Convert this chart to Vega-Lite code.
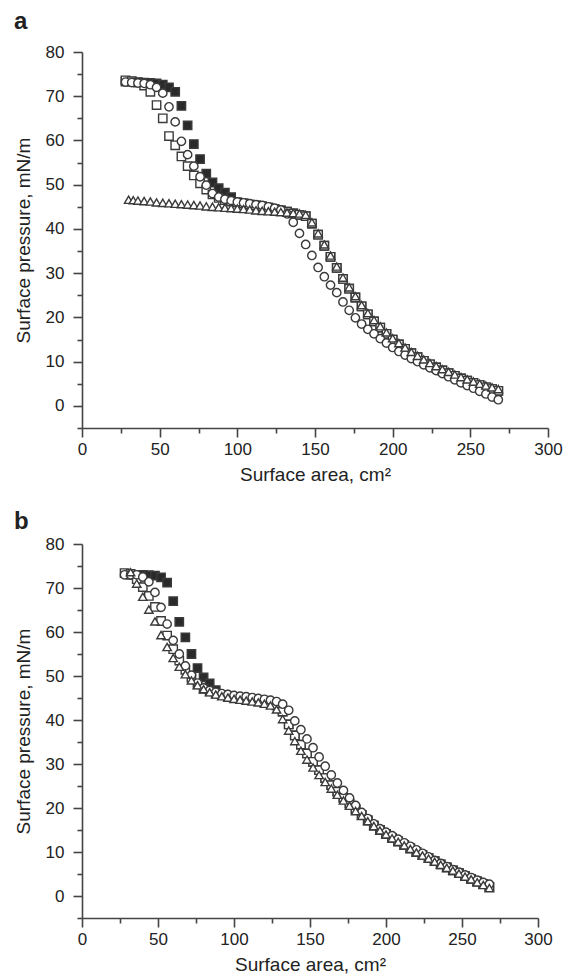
{
  "$schema": "https://vega.github.io/schema/vega-lite/v6.json",
  "padding": {"left": 14, "top": 10, "right": 6, "bottom": 3},
  "background": "white",
  "data": {
    "values": [
      {"p":"a","s":"F","x":28,"y":73.3},{"p":"a","s":"F","x":32,"y":73.3},{"p":"a","s":"F","x":36,"y":73.2},{"p":"a","s":"F","x":40,"y":73.1},{"p":"a","s":"F","x":44,"y":73.0},{"p":"a","s":"F","x":48,"y":72.9},{"p":"a","s":"F","x":52,"y":72.6},{"p":"a","s":"F","x":56,"y":72.0},{"p":"a","s":"F","x":60,"y":71.0},{"p":"a","s":"F","x":64,"y":67.8},{"p":"a","s":"F","x":68,"y":63.4},{"p":"a","s":"F","x":72,"y":59.2},{"p":"a","s":"F","x":76,"y":55.8},{"p":"a","s":"F","x":80,"y":52.5},{"p":"a","s":"F","x":84,"y":50.5},{"p":"a","s":"F","x":88,"y":49.2},{"p":"a","s":"F","x":92,"y":48.2},{"p":"a","s":"F","x":96,"y":47.2},{"p":"a","s":"F","x":100,"y":46.0},{"p":"a","s":"F","x":104,"y":45.8},{"p":"a","s":"F","x":108,"y":45.5},{"p":"a","s":"F","x":112,"y":45.3},{"p":"a","s":"F","x":116,"y":45.1},{"p":"a","s":"F","x":120,"y":44.8},{"p":"a","s":"F","x":124,"y":44.5},{"p":"a","s":"F","x":128,"y":44.2},{"p":"a","s":"F","x":132,"y":43.9},{"p":"a","s":"F","x":136,"y":43.5},{"p":"a","s":"F","x":140,"y":43.2},{"p":"a","s":"F","x":144,"y":42.9},{"p":"a","s":"F","x":148,"y":41.2},{"p":"a","s":"F","x":152,"y":38.7},{"p":"a","s":"F","x":156,"y":36.2},{"p":"a","s":"F","x":160,"y":33.7},{"p":"a","s":"F","x":164,"y":31.2},{"p":"a","s":"F","x":168,"y":28.7},{"p":"a","s":"F","x":172,"y":26.5},{"p":"a","s":"F","x":176,"y":24.5},{"p":"a","s":"F","x":180,"y":22.5},{"p":"a","s":"F","x":184,"y":20.7},{"p":"a","s":"F","x":188,"y":19.1},{"p":"a","s":"F","x":192,"y":17.7},{"p":"a","s":"F","x":196,"y":16.3},{"p":"a","s":"F","x":200,"y":15.0},{"p":"a","s":"F","x":204,"y":13.9},{"p":"a","s":"F","x":208,"y":12.9},{"p":"a","s":"F","x":212,"y":11.9},{"p":"a","s":"F","x":216,"y":11.0},{"p":"a","s":"F","x":220,"y":10.2},{"p":"a","s":"F","x":224,"y":9.4},{"p":"a","s":"F","x":228,"y":8.7},{"p":"a","s":"F","x":232,"y":8.0},{"p":"a","s":"F","x":236,"y":7.4},{"p":"a","s":"F","x":240,"y":6.8},{"p":"a","s":"F","x":244,"y":6.2},{"p":"a","s":"F","x":248,"y":5.7},{"p":"a","s":"F","x":252,"y":5.2},{"p":"a","s":"F","x":256,"y":4.7},{"p":"a","s":"F","x":260,"y":4.2},{"p":"a","s":"F","x":264,"y":3.8},{"p":"a","s":"F","x":268,"y":3.4},

      {"p":"a","s":"O","x":28,"y":73.6},{"p":"a","s":"O","x":32,"y":73.4},{"p":"a","s":"O","x":36,"y":73.1},{"p":"a","s":"O","x":40,"y":72.4},{"p":"a","s":"O","x":44,"y":71.0},{"p":"a","s":"O","x":48,"y":68.0},{"p":"a","s":"O","x":52,"y":65.0},{"p":"a","s":"O","x":56,"y":61.0},{"p":"a","s":"O","x":60,"y":58.9},{"p":"a","s":"O","x":64,"y":56.4},{"p":"a","s":"O","x":68,"y":54.2},{"p":"a","s":"O","x":72,"y":52.1},{"p":"a","s":"O","x":76,"y":50.3},{"p":"a","s":"O","x":80,"y":48.9},{"p":"a","s":"O","x":84,"y":47.8},{"p":"a","s":"O","x":88,"y":47.0},{"p":"a","s":"O","x":92,"y":46.5},{"p":"a","s":"O","x":96,"y":46.2},{"p":"a","s":"O","x":100,"y":46.0},{"p":"a","s":"O","x":104,"y":45.8},{"p":"a","s":"O","x":108,"y":45.5},{"p":"a","s":"O","x":112,"y":45.3},{"p":"a","s":"O","x":116,"y":45.1},{"p":"a","s":"O","x":120,"y":44.8},{"p":"a","s":"O","x":124,"y":44.5},{"p":"a","s":"O","x":128,"y":44.2},{"p":"a","s":"O","x":132,"y":43.9},{"p":"a","s":"O","x":136,"y":43.5},{"p":"a","s":"O","x":140,"y":43.2},{"p":"a","s":"O","x":144,"y":42.9},{"p":"a","s":"O","x":148,"y":41.2},{"p":"a","s":"O","x":152,"y":38.7},{"p":"a","s":"O","x":156,"y":36.2},{"p":"a","s":"O","x":160,"y":33.7},{"p":"a","s":"O","x":164,"y":31.2},{"p":"a","s":"O","x":168,"y":28.7},{"p":"a","s":"O","x":172,"y":26.5},{"p":"a","s":"O","x":176,"y":24.5},{"p":"a","s":"O","x":180,"y":22.5},{"p":"a","s":"O","x":184,"y":20.7},{"p":"a","s":"O","x":188,"y":19.1},{"p":"a","s":"O","x":192,"y":17.7},{"p":"a","s":"O","x":196,"y":16.3},{"p":"a","s":"O","x":200,"y":15.0},{"p":"a","s":"O","x":204,"y":13.9},{"p":"a","s":"O","x":208,"y":12.9},{"p":"a","s":"O","x":212,"y":11.9},{"p":"a","s":"O","x":216,"y":11.0},{"p":"a","s":"O","x":220,"y":10.2},{"p":"a","s":"O","x":224,"y":9.4},{"p":"a","s":"O","x":228,"y":8.7},{"p":"a","s":"O","x":232,"y":8.0},{"p":"a","s":"O","x":236,"y":7.4},{"p":"a","s":"O","x":240,"y":6.8},{"p":"a","s":"O","x":244,"y":6.2},{"p":"a","s":"O","x":248,"y":5.7},{"p":"a","s":"O","x":252,"y":5.2},{"p":"a","s":"O","x":256,"y":4.7},{"p":"a","s":"O","x":260,"y":4.2},{"p":"a","s":"O","x":264,"y":3.8},{"p":"a","s":"O","x":268,"y":3.4},

      {"p":"a","s":"C","x":28,"y":73.2},{"p":"a","s":"C","x":32,"y":73.1},{"p":"a","s":"C","x":36,"y":73.0},{"p":"a","s":"C","x":40,"y":72.9},{"p":"a","s":"C","x":44,"y":72.6},{"p":"a","s":"C","x":48,"y":72.0},{"p":"a","s":"C","x":52,"y":70.7},{"p":"a","s":"C","x":56,"y":67.6},{"p":"a","s":"C","x":60,"y":64.2},{"p":"a","s":"C","x":64,"y":59.8},{"p":"a","s":"C","x":68,"y":56.8},{"p":"a","s":"C","x":72,"y":54.2},{"p":"a","s":"C","x":76,"y":51.8},{"p":"a","s":"C","x":80,"y":49.9},{"p":"a","s":"C","x":84,"y":48.0},{"p":"a","s":"C","x":88,"y":47.2},{"p":"a","s":"C","x":92,"y":46.7},{"p":"a","s":"C","x":96,"y":46.4},{"p":"a","s":"C","x":100,"y":46.1},{"p":"a","s":"C","x":104,"y":45.9},{"p":"a","s":"C","x":108,"y":45.7},{"p":"a","s":"C","x":112,"y":45.5},{"p":"a","s":"C","x":116,"y":45.3},{"p":"a","s":"C","x":120,"y":45.0},{"p":"a","s":"C","x":124,"y":44.7},{"p":"a","s":"C","x":128,"y":44.3},{"p":"a","s":"C","x":132,"y":43.4},{"p":"a","s":"C","x":136,"y":41.5},{"p":"a","s":"C","x":140,"y":39.0},{"p":"a","s":"C","x":144,"y":36.5},{"p":"a","s":"C","x":148,"y":34.0},{"p":"a","s":"C","x":152,"y":31.3},{"p":"a","s":"C","x":156,"y":29.2},{"p":"a","s":"C","x":160,"y":27.3},{"p":"a","s":"C","x":164,"y":25.6},{"p":"a","s":"C","x":168,"y":23.5},{"p":"a","s":"C","x":172,"y":21.6},{"p":"a","s":"C","x":176,"y":19.9},{"p":"a","s":"C","x":180,"y":18.5},{"p":"a","s":"C","x":184,"y":17.3},{"p":"a","s":"C","x":188,"y":16.3},{"p":"a","s":"C","x":192,"y":15.2},{"p":"a","s":"C","x":196,"y":14.2},{"p":"a","s":"C","x":200,"y":13.2},{"p":"a","s":"C","x":204,"y":12.3},{"p":"a","s":"C","x":208,"y":11.5},{"p":"a","s":"C","x":212,"y":10.7},{"p":"a","s":"C","x":216,"y":10.0},{"p":"a","s":"C","x":220,"y":9.3},{"p":"a","s":"C","x":224,"y":8.6},{"p":"a","s":"C","x":228,"y":8.0},{"p":"a","s":"C","x":232,"y":7.3},{"p":"a","s":"C","x":236,"y":6.6},{"p":"a","s":"C","x":240,"y":5.9},{"p":"a","s":"C","x":244,"y":5.2},{"p":"a","s":"C","x":248,"y":4.6},{"p":"a","s":"C","x":252,"y":4.0},{"p":"a","s":"C","x":256,"y":3.3},{"p":"a","s":"C","x":260,"y":2.7},{"p":"a","s":"C","x":264,"y":2.0},{"p":"a","s":"C","x":268,"y":1.4},

      {"p":"a","s":"T","x":30,"y":46.6},{"p":"a","s":"T","x":33,"y":46.5},{"p":"a","s":"T","x":36,"y":46.4},{"p":"a","s":"T","x":40,"y":46.3},{"p":"a","s":"T","x":44,"y":46.2},{"p":"a","s":"T","x":48,"y":46.0},{"p":"a","s":"T","x":52,"y":45.9},{"p":"a","s":"T","x":56,"y":45.8},{"p":"a","s":"T","x":60,"y":45.7},{"p":"a","s":"T","x":64,"y":45.6},{"p":"a","s":"T","x":68,"y":45.5},{"p":"a","s":"T","x":72,"y":45.4},{"p":"a","s":"T","x":76,"y":45.3},{"p":"a","s":"T","x":80,"y":45.1},{"p":"a","s":"T","x":84,"y":45.0},{"p":"a","s":"T","x":88,"y":44.9},{"p":"a","s":"T","x":92,"y":44.8},{"p":"a","s":"T","x":96,"y":44.7},{"p":"a","s":"T","x":100,"y":44.6},{"p":"a","s":"T","x":104,"y":44.5},{"p":"a","s":"T","x":108,"y":44.4},{"p":"a","s":"T","x":112,"y":44.2},{"p":"a","s":"T","x":116,"y":44.1},{"p":"a","s":"T","x":120,"y":44.0},{"p":"a","s":"T","x":124,"y":43.9},{"p":"a","s":"T","x":128,"y":43.8},{"p":"a","s":"T","x":132,"y":43.7},{"p":"a","s":"T","x":136,"y":43.6},{"p":"a","s":"T","x":140,"y":43.5},{"p":"a","s":"T","x":144,"y":43.2},{"p":"a","s":"T","x":148,"y":41.5},{"p":"a","s":"T","x":152,"y":39.0},{"p":"a","s":"T","x":156,"y":36.5},{"p":"a","s":"T","x":160,"y":34.0},{"p":"a","s":"T","x":164,"y":31.5},{"p":"a","s":"T","x":168,"y":29.0},{"p":"a","s":"T","x":172,"y":26.8},{"p":"a","s":"T","x":176,"y":24.8},{"p":"a","s":"T","x":180,"y":22.8},{"p":"a","s":"T","x":184,"y":21.0},{"p":"a","s":"T","x":188,"y":19.4},{"p":"a","s":"T","x":192,"y":18.0},{"p":"a","s":"T","x":196,"y":16.6},{"p":"a","s":"T","x":200,"y":15.3},{"p":"a","s":"T","x":204,"y":14.2},{"p":"a","s":"T","x":208,"y":13.2},{"p":"a","s":"T","x":212,"y":12.2},{"p":"a","s":"T","x":216,"y":11.3},{"p":"a","s":"T","x":220,"y":10.5},{"p":"a","s":"T","x":224,"y":9.7},{"p":"a","s":"T","x":228,"y":9.0},{"p":"a","s":"T","x":232,"y":8.3},{"p":"a","s":"T","x":236,"y":7.7},{"p":"a","s":"T","x":240,"y":7.1},{"p":"a","s":"T","x":244,"y":6.5},{"p":"a","s":"T","x":248,"y":6.0},{"p":"a","s":"T","x":252,"y":5.5},{"p":"a","s":"T","x":256,"y":5.0},{"p":"a","s":"T","x":260,"y":4.6},{"p":"a","s":"T","x":264,"y":4.2},{"p":"a","s":"T","x":268,"y":3.8},

      {"p":"b","s":"F","x":32,"y":73.0},{"p":"b","s":"F","x":36,"y":73.0},{"p":"b","s":"F","x":40,"y":73.0},{"p":"b","s":"F","x":44,"y":72.9},{"p":"b","s":"F","x":48,"y":72.8},{"p":"b","s":"F","x":52,"y":72.4},{"p":"b","s":"F","x":56,"y":71.2},{"p":"b","s":"F","x":60,"y":67.0},{"p":"b","s":"F","x":64,"y":62.3},{"p":"b","s":"F","x":68,"y":58.8},{"p":"b","s":"F","x":72,"y":55.0},{"p":"b","s":"F","x":76,"y":51.8},{"p":"b","s":"F","x":80,"y":49.7},{"p":"b","s":"F","x":84,"y":48.3},{"p":"b","s":"F","x":88,"y":46.8},{"p":"b","s":"F","x":92,"y":45.7},{"p":"b","s":"F","x":96,"y":45.4},{"p":"b","s":"F","x":100,"y":45.2},{"p":"b","s":"F","x":104,"y":45.0},{"p":"b","s":"F","x":108,"y":44.8},{"p":"b","s":"F","x":112,"y":44.6},{"p":"b","s":"F","x":116,"y":44.4},{"p":"b","s":"F","x":120,"y":44.2},{"p":"b","s":"F","x":124,"y":43.9},{"p":"b","s":"F","x":128,"y":43.3},{"p":"b","s":"F","x":132,"y":41.9},{"p":"b","s":"F","x":136,"y":39.0},{"p":"b","s":"F","x":140,"y":36.5},{"p":"b","s":"F","x":144,"y":34.4},{"p":"b","s":"F","x":148,"y":32.4},{"p":"b","s":"F","x":152,"y":30.5},{"p":"b","s":"F","x":156,"y":28.6},{"p":"b","s":"F","x":160,"y":26.8},{"p":"b","s":"F","x":164,"y":25.2},{"p":"b","s":"F","x":168,"y":23.7},{"p":"b","s":"F","x":172,"y":22.3},{"p":"b","s":"F","x":176,"y":21.0},{"p":"b","s":"F","x":180,"y":19.7},{"p":"b","s":"F","x":184,"y":18.4},{"p":"b","s":"F","x":188,"y":17.2},{"p":"b","s":"F","x":192,"y":16.0},{"p":"b","s":"F","x":196,"y":15.0},{"p":"b","s":"F","x":200,"y":14.1},{"p":"b","s":"F","x":204,"y":13.2},{"p":"b","s":"F","x":208,"y":12.4},{"p":"b","s":"F","x":212,"y":11.6},{"p":"b","s":"F","x":216,"y":10.8},{"p":"b","s":"F","x":220,"y":10.0},{"p":"b","s":"F","x":224,"y":9.3},{"p":"b","s":"F","x":228,"y":8.6},{"p":"b","s":"F","x":232,"y":7.9},{"p":"b","s":"F","x":236,"y":7.2},{"p":"b","s":"F","x":240,"y":6.5},{"p":"b","s":"F","x":244,"y":5.8},{"p":"b","s":"F","x":248,"y":5.2},{"p":"b","s":"F","x":252,"y":4.5},{"p":"b","s":"F","x":256,"y":3.9},{"p":"b","s":"F","x":260,"y":3.3},{"p":"b","s":"F","x":264,"y":2.7},{"p":"b","s":"F","x":268,"y":2.1},

      {"p":"b","s":"O","x":28,"y":73.4},{"p":"b","s":"O","x":32,"y":73.2},{"p":"b","s":"O","x":36,"y":72.0},{"p":"b","s":"O","x":40,"y":70.2},{"p":"b","s":"O","x":44,"y":68.2},{"p":"b","s":"O","x":48,"y":65.7},{"p":"b","s":"O","x":52,"y":62.5},{"p":"b","s":"O","x":56,"y":59.2},{"p":"b","s":"O","x":60,"y":56.1},{"p":"b","s":"O","x":64,"y":53.5},{"p":"b","s":"O","x":68,"y":51.4},{"p":"b","s":"O","x":72,"y":49.6},{"p":"b","s":"O","x":76,"y":48.1},{"p":"b","s":"O","x":80,"y":47.1},{"p":"b","s":"O","x":84,"y":46.5},{"p":"b","s":"O","x":88,"y":46.0},{"p":"b","s":"O","x":92,"y":45.7},{"p":"b","s":"O","x":96,"y":45.4},{"p":"b","s":"O","x":100,"y":45.2},{"p":"b","s":"O","x":104,"y":45.0},{"p":"b","s":"O","x":108,"y":44.8},{"p":"b","s":"O","x":112,"y":44.6},{"p":"b","s":"O","x":116,"y":44.4},{"p":"b","s":"O","x":120,"y":44.2},{"p":"b","s":"O","x":124,"y":43.9},{"p":"b","s":"O","x":128,"y":43.3},{"p":"b","s":"O","x":132,"y":41.9},{"p":"b","s":"O","x":136,"y":39.0},{"p":"b","s":"O","x":140,"y":36.5},{"p":"b","s":"O","x":144,"y":34.4},{"p":"b","s":"O","x":148,"y":32.4},{"p":"b","s":"O","x":152,"y":30.5},{"p":"b","s":"O","x":156,"y":28.6},{"p":"b","s":"O","x":160,"y":26.8},{"p":"b","s":"O","x":164,"y":25.2},{"p":"b","s":"O","x":168,"y":23.7},{"p":"b","s":"O","x":172,"y":22.3},{"p":"b","s":"O","x":176,"y":21.0},{"p":"b","s":"O","x":180,"y":19.7},{"p":"b","s":"O","x":184,"y":18.4},{"p":"b","s":"O","x":188,"y":17.2},{"p":"b","s":"O","x":192,"y":16.0},{"p":"b","s":"O","x":196,"y":15.0},{"p":"b","s":"O","x":200,"y":14.1},{"p":"b","s":"O","x":204,"y":13.2},{"p":"b","s":"O","x":208,"y":12.4},{"p":"b","s":"O","x":212,"y":11.6},{"p":"b","s":"O","x":216,"y":10.8},{"p":"b","s":"O","x":220,"y":10.0},{"p":"b","s":"O","x":224,"y":9.3},{"p":"b","s":"O","x":228,"y":8.6},{"p":"b","s":"O","x":232,"y":7.9},{"p":"b","s":"O","x":236,"y":7.2},{"p":"b","s":"O","x":240,"y":6.5},{"p":"b","s":"O","x":244,"y":5.8},{"p":"b","s":"O","x":248,"y":5.2},{"p":"b","s":"O","x":252,"y":4.5},{"p":"b","s":"O","x":256,"y":3.9},{"p":"b","s":"O","x":260,"y":3.3},{"p":"b","s":"O","x":264,"y":2.7},{"p":"b","s":"O","x":268,"y":2.1},

      {"p":"b","s":"C","x":28,"y":73.0},{"p":"b","s":"C","x":32,"y":73.0},{"p":"b","s":"C","x":36,"y":73.0},{"p":"b","s":"C","x":40,"y":72.5},{"p":"b","s":"C","x":44,"y":71.4},{"p":"b","s":"C","x":48,"y":69.0},{"p":"b","s":"C","x":52,"y":65.6},{"p":"b","s":"C","x":56,"y":61.8},{"p":"b","s":"C","x":60,"y":58.1},{"p":"b","s":"C","x":64,"y":55.0},{"p":"b","s":"C","x":68,"y":52.3},{"p":"b","s":"C","x":72,"y":50.2},{"p":"b","s":"C","x":76,"y":48.4},{"p":"b","s":"C","x":80,"y":47.3},{"p":"b","s":"C","x":84,"y":46.7},{"p":"b","s":"C","x":88,"y":46.3},{"p":"b","s":"C","x":92,"y":46.0},{"p":"b","s":"C","x":96,"y":45.8},{"p":"b","s":"C","x":100,"y":45.6},{"p":"b","s":"C","x":104,"y":45.4},{"p":"b","s":"C","x":108,"y":45.3},{"p":"b","s":"C","x":112,"y":45.1},{"p":"b","s":"C","x":116,"y":44.9},{"p":"b","s":"C","x":120,"y":44.7},{"p":"b","s":"C","x":124,"y":44.5},{"p":"b","s":"C","x":128,"y":44.2},{"p":"b","s":"C","x":132,"y":43.6},{"p":"b","s":"C","x":136,"y":42.2},{"p":"b","s":"C","x":140,"y":39.8},{"p":"b","s":"C","x":144,"y":37.8},{"p":"b","s":"C","x":148,"y":35.7},{"p":"b","s":"C","x":152,"y":33.7},{"p":"b","s":"C","x":156,"y":31.6},{"p":"b","s":"C","x":160,"y":29.5},{"p":"b","s":"C","x":164,"y":27.5},{"p":"b","s":"C","x":168,"y":25.7},{"p":"b","s":"C","x":172,"y":24.0},{"p":"b","s":"C","x":176,"y":22.3},{"p":"b","s":"C","x":180,"y":20.6},{"p":"b","s":"C","x":184,"y":19.0},{"p":"b","s":"C","x":188,"y":17.6},{"p":"b","s":"C","x":192,"y":16.4},{"p":"b","s":"C","x":196,"y":15.3},{"p":"b","s":"C","x":200,"y":14.5},{"p":"b","s":"C","x":204,"y":13.7},{"p":"b","s":"C","x":208,"y":12.9},{"p":"b","s":"C","x":212,"y":12.1},{"p":"b","s":"C","x":216,"y":11.3},{"p":"b","s":"C","x":220,"y":10.5},{"p":"b","s":"C","x":224,"y":9.7},{"p":"b","s":"C","x":228,"y":8.9},{"p":"b","s":"C","x":232,"y":8.1},{"p":"b","s":"C","x":236,"y":7.4},{"p":"b","s":"C","x":240,"y":6.7},{"p":"b","s":"C","x":244,"y":6.0},{"p":"b","s":"C","x":248,"y":5.4},{"p":"b","s":"C","x":252,"y":4.8},{"p":"b","s":"C","x":256,"y":4.2},{"p":"b","s":"C","x":260,"y":3.6},{"p":"b","s":"C","x":264,"y":3.1},{"p":"b","s":"C","x":268,"y":2.7},

      {"p":"b","s":"T","x":32,"y":73.6},{"p":"b","s":"T","x":36,"y":71.0},{"p":"b","s":"T","x":40,"y":68.0},{"p":"b","s":"T","x":44,"y":65.1},{"p":"b","s":"T","x":48,"y":62.4},{"p":"b","s":"T","x":52,"y":59.3},{"p":"b","s":"T","x":56,"y":56.6},{"p":"b","s":"T","x":60,"y":54.1},{"p":"b","s":"T","x":64,"y":52.1},{"p":"b","s":"T","x":68,"y":50.4},{"p":"b","s":"T","x":72,"y":49.0},{"p":"b","s":"T","x":76,"y":47.9},{"p":"b","s":"T","x":80,"y":47.0},{"p":"b","s":"T","x":84,"y":46.3},{"p":"b","s":"T","x":88,"y":45.8},{"p":"b","s":"T","x":92,"y":45.4},{"p":"b","s":"T","x":96,"y":45.1},{"p":"b","s":"T","x":100,"y":44.8},{"p":"b","s":"T","x":104,"y":44.6},{"p":"b","s":"T","x":108,"y":44.4},{"p":"b","s":"T","x":112,"y":44.2},{"p":"b","s":"T","x":116,"y":44.0},{"p":"b","s":"T","x":120,"y":43.7},{"p":"b","s":"T","x":124,"y":43.3},{"p":"b","s":"T","x":128,"y":42.4},{"p":"b","s":"T","x":132,"y":40.2},{"p":"b","s":"T","x":136,"y":37.6},{"p":"b","s":"T","x":140,"y":35.2},{"p":"b","s":"T","x":144,"y":33.0},{"p":"b","s":"T","x":148,"y":31.0},{"p":"b","s":"T","x":152,"y":29.2},{"p":"b","s":"T","x":156,"y":27.5},{"p":"b","s":"T","x":160,"y":25.9},{"p":"b","s":"T","x":164,"y":24.4},{"p":"b","s":"T","x":168,"y":23.0},{"p":"b","s":"T","x":172,"y":21.7},{"p":"b","s":"T","x":176,"y":20.5},{"p":"b","s":"T","x":180,"y":19.3},{"p":"b","s":"T","x":184,"y":18.2},{"p":"b","s":"T","x":188,"y":17.0},{"p":"b","s":"T","x":192,"y":15.9},{"p":"b","s":"T","x":196,"y":14.9},{"p":"b","s":"T","x":200,"y":14.0},{"p":"b","s":"T","x":204,"y":13.1},{"p":"b","s":"T","x":208,"y":12.3},{"p":"b","s":"T","x":212,"y":11.5},{"p":"b","s":"T","x":216,"y":10.7},{"p":"b","s":"T","x":220,"y":9.9},{"p":"b","s":"T","x":224,"y":9.2},{"p":"b","s":"T","x":228,"y":8.5},{"p":"b","s":"T","x":232,"y":7.8},{"p":"b","s":"T","x":236,"y":7.1},{"p":"b","s":"T","x":240,"y":6.4},{"p":"b","s":"T","x":244,"y":5.8},{"p":"b","s":"T","x":248,"y":5.1},{"p":"b","s":"T","x":252,"y":4.4},{"p":"b","s":"T","x":256,"y":3.8},{"p":"b","s":"T","x":260,"y":3.1},{"p":"b","s":"T","x":264,"y":2.5},{"p":"b","s":"T","x":268,"y":1.8}
    ]
  },
  "spacing": 26,
  "vconcat": [
    {
      "title": {"text": "a", "anchor": "start", "frame": "bounds", "fontSize": 24, "fontWeight": "bold", "font": "Liberation Sans", "color": "#222", "offset": 9},
      "width": 466,
      "height": 376,
      "transform": [{"filter": "datum.p === 'a'"}],
      "mark": {"type": "point", "size": 70, "strokeWidth": 1.4, "stroke": "#3a3a3a", "opacity": 1},
      "encoding": {
        "x": {
          "field": "x", "type": "quantitative",
          "scale": {"domain": [0, 300], "nice": false},
          "axis": {
            "title": "Surface area, cm²",
            "values": [0, 25, 50, 75, 100, 125, 150, 175, 200, 225, 250, 275, 300],
            "labelExpr": "datum.value % 50 === 0 ? datum.label : ''",
            "tickSize": {"condition": {"test": "datum.value % 50 === 0", "value": 9}, "value": 5},
            "labelPadding": 4, "titlePadding": 8
          }
        },
        "y": {
          "field": "y", "type": "quantitative",
          "scale": {"domain": [-5, 80], "nice": false, "zero": false},
          "axis": {
            "title": "Surface pressure, mN/m",
            "values": [-5, 0, 5, 10, 15, 20, 25, 30, 35, 40, 45, 50, 55, 60, 65, 70, 75, 80],
            "labelExpr": "datum.value >= 0 && datum.value % 10 === 0 ? datum.label : ''",
            "tickSize": {"condition": {"test": "datum.value % 10 === 0", "value": 9}, "value": 5},
            "labelPadding": 9, "titlePadding": 12
          }
        },
        "shape": {"field": "s", "type": "nominal", "scale": {"domain": ["F", "O", "C", "T"], "range": ["square", "square", "circle", "triangle-up"]}, "legend": null},
        "fill": {"field": "s", "type": "nominal", "scale": {"domain": ["F", "O", "C", "T"], "range": ["#2a2a2a", "#ffffff", "#ffffff", "#ffffff"]}, "legend": null}
      }
    },
    {
      "title": {"text": "b", "anchor": "start", "frame": "bounds", "fontSize": 24, "fontWeight": "bold", "font": "Liberation Sans", "color": "#222", "offset": 1},
      "width": 456,
      "height": 374,
      "transform": [{"filter": "datum.p === 'b'"}],
      "mark": {"type": "point", "size": 70, "strokeWidth": 1.4, "stroke": "#3a3a3a", "opacity": 1},
      "encoding": {
        "x": {
          "field": "x", "type": "quantitative",
          "scale": {"domain": [0, 300], "nice": false},
          "axis": {
            "title": "Surface area, cm²",
            "values": [0, 25, 50, 75, 100, 125, 150, 175, 200, 225, 250, 275, 300],
            "labelExpr": "datum.value % 50 === 0 ? datum.label : ''",
            "tickSize": {"condition": {"test": "datum.value % 50 === 0", "value": 9}, "value": 5},
            "labelPadding": 4, "titlePadding": 8
          }
        },
        "y": {
          "field": "y", "type": "quantitative",
          "scale": {"domain": [-5, 80], "nice": false, "zero": false},
          "axis": {
            "title": "Surface pressure, mN/m",
            "values": [-5, 0, 5, 10, 15, 20, 25, 30, 35, 40, 45, 50, 55, 60, 65, 70, 75, 80],
            "labelExpr": "datum.value >= 0 && datum.value % 10 === 0 ? datum.label : ''",
            "tickSize": {"condition": {"test": "datum.value % 10 === 0", "value": 9}, "value": 5},
            "labelPadding": 9, "titlePadding": 12
          }
        },
        "shape": {"field": "s", "type": "nominal", "scale": {"domain": ["F", "O", "C", "T"], "range": ["square", "square", "circle", "triangle-up"]}, "legend": null},
        "fill": {"field": "s", "type": "nominal", "scale": {"domain": ["F", "O", "C", "T"], "range": ["#2a2a2a", "#ffffff", "#ffffff", "#ffffff"]}, "legend": null}
      }
    }
  ],
  "resolve": {"scale": {"shape": "independent", "fill": "independent"}},
  "config": {
    "view": {"stroke": null},
    "axis": {
      "grid": false,
      "domainColor": "#444", "domainWidth": 1.6,
      "tickColor": "#444", "tickWidth": 1.6,
      "labelFont": "Liberation Sans", "labelFontSize": 17, "labelColor": "#222",
      "labelOverlap": false, "labelFlush": false,
      "titleFont": "Liberation Sans", "titleFontSize": 19, "titleFontWeight": "normal", "titleColor": "#222"
    }
  }
}
